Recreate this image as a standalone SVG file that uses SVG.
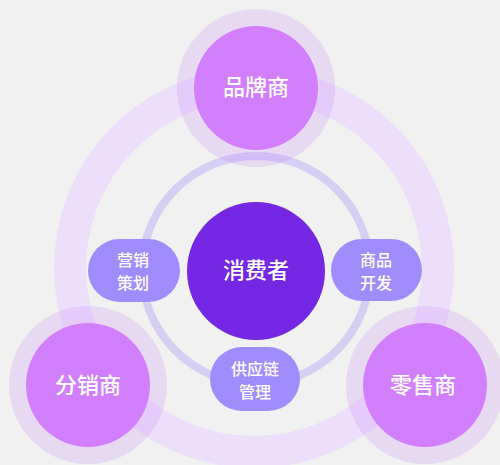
<svg xmlns="http://www.w3.org/2000/svg" width="500" height="465" viewBox="0 0 500 465">
  <style>
    .outer-node{fill:#d17ffc}
    .halo{fill:#c77dfa;fill-opacity:0.2}
    .pill{fill:#a08cfd}
    .lbl{font-family:"Noto Sans CJK SC","Noto Sans",sans-serif;font-weight:500;fill:#ffffff;text-anchor:middle}
    .big{font-size:22px}
    .small{font-size:16px}
  </style>
  <rect x="0" y="0" width="500" height="465" fill="#f1f1f1"/>
  <g id="connectors">
    <circle cx="254" cy="268" r="184" fill="none" stroke="#ebd8fe" stroke-opacity="0.75" stroke-width="32"/>
    <circle cx="256" cy="270" r="114" fill="none" stroke="#d6cef3" stroke-width="8"/>
  </g>
  <g id="consumer">
    <circle cx="256" cy="271" r="69" fill="#7428e3"/>
    <text class="lbl big" x="256" y="278">消费者</text>
  </g>
  <g id="marketing">
    <rect class="pill" x="88" y="239" width="92" height="63" rx="31.5"/>
    <text class="lbl small" x="133" y="266">营销</text>
    <text class="lbl small" x="133" y="289">策划</text>
  </g>
  <g id="product">
    <rect class="pill" x="331" y="239" width="91" height="62" rx="31"/>
    <text class="lbl small" x="376" y="266">商品</text>
    <text class="lbl small" x="376" y="289">开发</text>
  </g>
  <g id="supply">
    <rect class="pill" x="210" y="347" width="90" height="64" rx="32"/>
    <text class="lbl small" x="255" y="375">供应链</text>
    <text class="lbl small" x="255" y="398">管理</text>
  </g>
  <g id="brand">
    <circle class="halo" cx="256" cy="88" r="79"/>
    <circle class="outer-node" cx="256" cy="88" r="62"/>
    <text class="lbl big" x="256" y="95">品牌商</text>
  </g>
  <g id="distributor">
    <circle class="halo" cx="88" cy="385" r="79"/>
    <circle class="outer-node" cx="88" cy="385" r="62"/>
    <text class="lbl big" x="88" y="393">分销商</text>
  </g>
  <g id="retailer">
    <circle class="halo" cx="425" cy="385" r="79"/>
    <circle class="outer-node" cx="425" cy="385" r="62"/>
    <text class="lbl big" x="423" y="393">零售商</text>
  </g>
</svg>
